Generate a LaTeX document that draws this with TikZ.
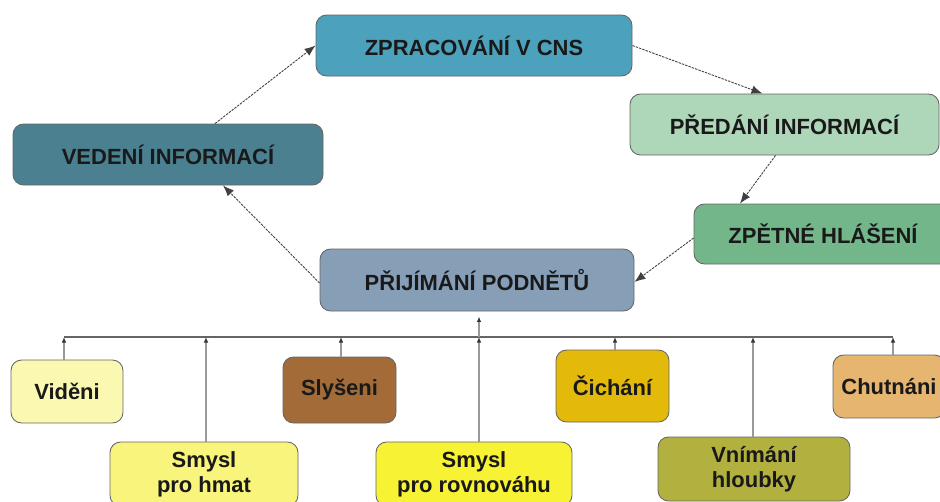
\documentclass[tikz,border=0pt]{standalone}
\usepackage{fontspec}
\setmainfont{Liberation Sans}
\usetikzlibrary{arrows.meta}
\definecolor{czprac}{HTML}{4CA2BC}
\definecolor{cvedeni}{HTML}{4B8091}
\definecolor{cpredani}{HTML}{AED6B9}
\definecolor{czpetne}{HTML}{72B68A}
\definecolor{cprijim}{HTML}{879EB7}
\definecolor{cvideni}{HTML}{FBF8B2}
\definecolor{chmat}{HTML}{F8F47C}
\definecolor{cslys}{HTML}{A26B38}
\definecolor{crovn}{HTML}{F8F235}
\definecolor{ccich}{HTML}{E3B90A}
\definecolor{chloub}{HTML}{B2B140}
\definecolor{cchut}{HTML}{E6B670}

\begin{document}
\begin{tikzpicture}[x=0.02cm, y=-0.02cm,
    box/.style={draw=black!60, line width=0.5pt, rounded corners=6pt,
        align=center, inner sep=0pt, text=black!90,
        font=\fontsize{12.5}{14.2}\selectfont\bfseries},
    sz/.style 2 args={minimum width=#1*0.02cm, minimum height=#2*0.02cm},
    cyc/.style={color=black!75, line width=0.5pt, dash pattern=on 1.4pt off 0.6pt,
        -{Latex[length=0.22cm, width=0.17cm]}},
    tap/.style={draw=black!40, line width=0.7pt,
        -{Latex[length=0.11cm, width=0.09cm, color=black!80]}},
    bus/.style={draw=black!60, line width=0.9pt}]
    \useasboundingbox (0,0) rectangle (940,501);

    \node[box, fill=czprac,   sz={316}{61}] (zprac)   at (474,45.5)  {ZPRACOVÁNÍ V CNS};
    \node[box, fill=cvedeni,  sz={310}{61}] (vedeni)  at (168,154.5) {VEDENÍ INFORMACÍ};
    \node[box, fill=cpredani, sz={309}{61}] (predani) at (784.5,124.5) {PŘEDÁNÍ INFORMACÍ};
    \node[box, fill=czpetne,  sz={258}{60}] (zpetne)  at (823,234)   {ZPĚTNÉ HLÁŠENÍ};
    \node[box, fill=cprijim,  sz={314}{62}] (prijim)  at (477,280)   {PŘIJÍMÁNÍ PODNĚTŮ};

    \node[box, fill=cvideni, sz={112}{63}] (videni) at (67,391.5)  {Viděni};
    \node[box, fill=chmat,   sz={188}{64}] (hmat)   at (204,474)   {Smysl\\pro hmat};
    \node[box, fill=cslys,   sz={113}{66}] (slys)   at (339.5,390) {Slyšeni};
    \node[box, fill=crovn,   sz={196}{64}] (rovn)   at (474,474)   {Smysl\\pro rovnováhu};
    \node[box, fill=ccich,   sz={113}{72}] (cich)   at (612.5,386) {Čichání};
    \node[box, fill=chloub,  sz={192}{64}] (hloub)  at (754,469)   {Vnímání\\hloubky};
    \node[box, fill=cchut,   sz={112}{63}] (chut)   at (889,386.5) {Chutnáni};

    \path[cyc]
    ([xshift=0.94cm]vedeni.north) edge (zprac.west)
    (zprac.east) edge ([xshift=-0.44cm]predani.north)
    ([xshift=-0.18cm]predani.south) edge ([xshift=-1.66cm]zpetne.north)
    ([yshift=-0.08cm]zpetne.west) edge ([yshift=-0.04cm]prijim.east)
    ([yshift=-0.06cm]prijim.west) edge ([xshift=1.1cm]vedeni.south);

    \coordinate (b1) at (64,337);
    \coordinate (b2) at (206,337);
    \coordinate (b3) at (341,337);
    \coordinate (b4) at (479,337);
    \coordinate (b5) at (615,337);
    \coordinate (b6) at (753,337);
    \coordinate (b7) at (893,337);
    \draw[bus] (b1) -- (b7);
    \draw[tap] (videni.north -| b1) -- (b1);
    \draw[tap] (hmat.north -| b2) -- (b2);
    \draw[tap] (slys.north -| b3) -- (b3);
    \draw[tap] (rovn.north -| b4) -- (b4);
    \draw[tap] (cich.north -| b5) -- (b5);
    \draw[tap] (hloub.north -| b6) -- (b6);
    \draw[tap] (chut.north -| b7) -- (b7);
    \draw[tap, shorten >=0.1cm] (b4) -- (prijim.south -| b4);
\end{tikzpicture}
\end{document}
